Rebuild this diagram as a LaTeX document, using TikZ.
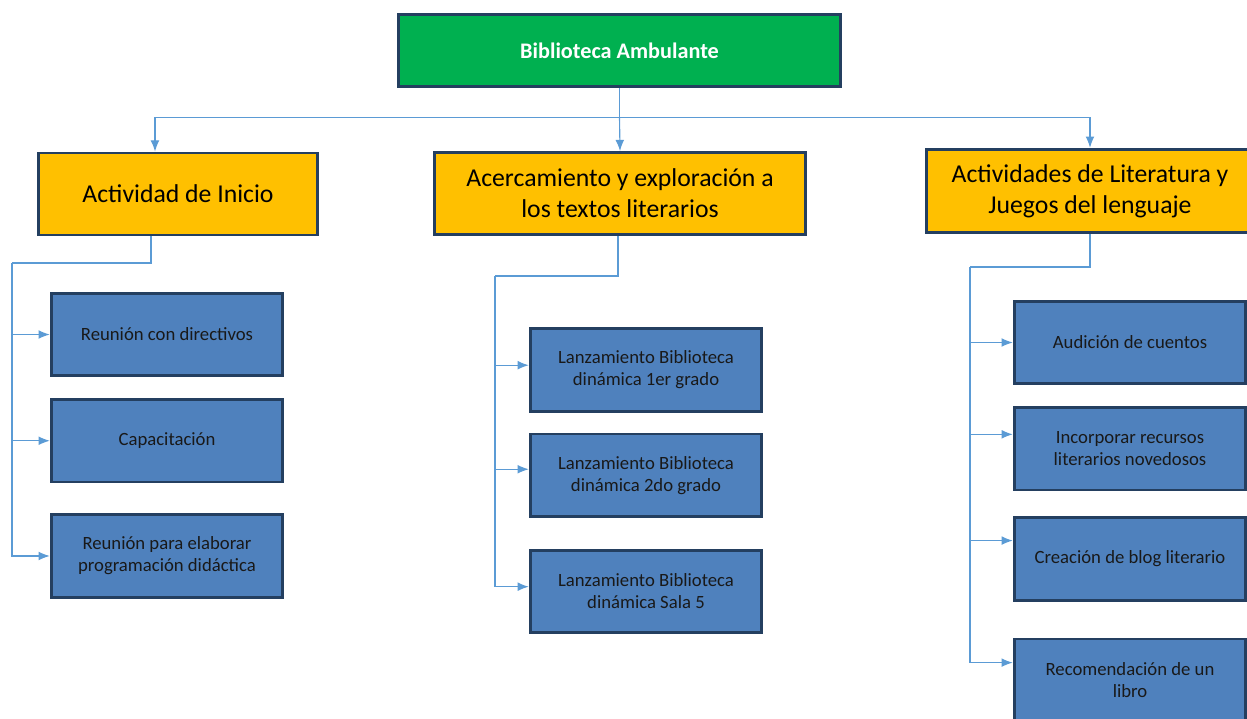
\documentclass[tikz,border=0pt]{standalone}
\usepackage{fontspec}
\setmainfont{Carlito}
\usepackage{tikz}
\usetikzlibrary{positioning,arrows.meta}

\definecolor{boxline}{HTML}{243F60}
\definecolor{headgreen}{HTML}{00B050}
\definecolor{topicorange}{HTML}{FFC000}
\definecolor{taskblue}{HTML}{4F81BD}
\definecolor{linkblue}{HTML}{5B9BD5}

\begin{document}
\begin{tikzpicture}[
  x=0.025cm, y=-0.025cm,
  head/.style={draw=boxline, line width=2pt, fill=headgreen, text=white,
               minimum width=11.06cm, minimum height=1.81cm, align=center,
               font=\fontsize{15.8}{18}\selectfont\bfseries},
  topic/.style={draw=boxline, line width=2pt, fill=topicorange, align=center,
                minimum height=2.05cm, font=\fontsize{18.3}{22}\selectfont},
  task/.style={draw=boxline, line width=2pt, fill=taskblue, align=center,
               minimum width=5.79cm, minimum height=2.06cm,
               text=black!90, font=\fontsize{13.3}{15.6}\selectfont},
  link/.style={draw=linkblue, line width=0.8pt},
  >={Latex[length=0.28cm,width=0.22cm]}
]
\useasboundingbox (0,0) rectangle (1247,718);

% Main title
\node[head] (root) at (619.5,50.5) {Biblioteca Ambulante};

% Three topics
\node[topic, minimum width=6.99cm] (ini) at (178,194) {Actividad de Inicio};
\node[topic, minimum width=9.29cm] (acer) at (620,193.5) {Acercamiento y exploración a\\los textos literarios};
\node[topic, minimum width=8.19cm, minimum height=2.09cm] (lit) at (1090,191) {Actividades de Literatura y\\Juegos del lenguaje};

% Branch 1: Actividad de Inicio
\node[task] (ini1) at (167,334.5) {Reunión con directivos};
\node[task, below=0.525cm of ini1] (ini2) {Capacitación};
\node[task, below=0.75cm of ini2] (ini3) {Reunión para elaborar\\programación didáctica};

% Branch 2: Acercamiento
\node[task] (acer1) at (646,370) {Lanzamiento Biblioteca\\dinámica 1er grado};
\node[task, below=0.5cm of acer1] (acer2) {Lanzamiento Biblioteca\\dinámica 2do grado};
\node[task, below=0.775cm of acer2] (acer3) {Lanzamiento Biblioteca\\dinámica Sala 5};

% Branch 3: Literatura y juegos
\node[task] (lit1) at (1130,342.5) {Audición de cuentos};
\node[task, below=0.525cm of lit1] (lit2) {Incorporar recursos\\literarios novedosos};
\node[task, below=0.625cm of lit2] (lit3) {Creación de blog literario};
\node[task, below=0.9cm of lit3] (lit4) {Recomendación de un\\libro};

% Connections from the title
\draw[link] (root.south) -- ++(0,29) coordinate (hub);
\draw[link] (hub) -- ++(-465,0);
\draw[link] (hub) -- ++(470,0);
\draw[link,->] (hub) -| ([xshift=-0.575cm]ini.north);
\draw[link,->] (hub) -- (acer.north);
\draw[link,->] (hub) -| (lit.north);

% Sub-branch arrows
\coordinate (iniTurn) at (12,263);
\coordinate (acerTurn) at (495,276);
\coordinate (litTurn) at (970,267);
\draw[link] ([xshift=-0.675cm]ini.south) |- (iniTurn);
\draw[link] ([xshift=-0.05cm]acer.south) |- (acerTurn);
\draw[link] (lit.south) |- (litTurn);
\foreach \t in {ini1,ini2,ini3}
  \draw[link,->] (iniTurn) |- (\t.west);
\foreach \t/\s in {acer1/0.12,acer2/0.15,acer3/0.12}
  \draw[link,->] (acerTurn) |- ([yshift=\s cm]\t.west);
\foreach \t/\s in {lit1/0,lit2/0.36,lit3/0.46,lit4/0.44}
  \draw[link,->] (litTurn) |- ([yshift=\s cm]\t.west);

\end{tikzpicture}
\end{document}
